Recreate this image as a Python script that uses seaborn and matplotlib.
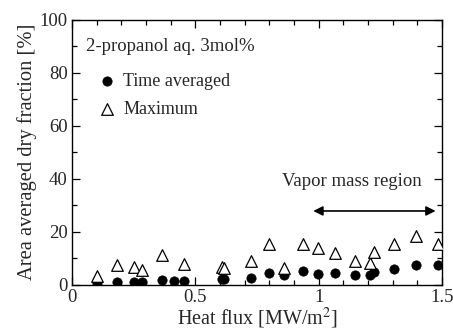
import numpy as np
import pandas as pd
import matplotlib
matplotlib.use("Agg")
import matplotlib.pyplot as plt
import seaborn as sns
from matplotlib.ticker import MultipleLocator

heat_flux = [0.100, 0.181, 0.251, 0.284, 0.365, 0.413, 0.455, 0.609, 0.615,
             0.727, 0.799, 0.859, 0.935, 0.996, 1.067, 1.147, 1.208, 1.223,
             1.304, 1.393, 1.485]
time_avg = [0.4, 0.9, 0.9, 0.9, 1.6, 1.5, 1.5, 2.0, 2.0,
            2.6, 4.2, 3.5, 5.2, 3.9, 4.4, 3.5, 3.5, 4.9,
            5.9, 7.5, 7.3]
max_hf = [0.100, 0.181, 0.251, 0.284, 0.365, 0.455, 0.609, 0.615,
          0.727, 0.799, 0.859, 0.935, 0.996, 1.067, 1.147, 1.208, 1.223,
          1.304, 1.393, 1.485]
maximum = [3.1, 7.3, 6.5, 5.4, 11.2, 7.7, 6.5, 6.2,
           8.7, 15.2, 6.2, 15.5, 13.7, 12.0, 8.7, 8.2, 12.2,
           15.5, 18.3, 15.5]
arrow_x = [0.978, 1.474]
arrow_y = 27.8
region_label_x = 1.134
region_label_y = 38.8

sns.set_theme(style="ticks")
plt.rcParams['font.family'] = ['Liberation Serif', 'DejaVu Serif']
plt.rcParams['mathtext.fontset'] = 'stix'

fig = plt.figure(figsize=(4.53, 3.30), dpi=100)
ax = fig.add_axes([72/453, 1-284.5/330, 370/453, 264.5/330])

df_t = pd.DataFrame({"x": heat_flux, "y": time_avg})
df_m = pd.DataFrame({"x": max_hf, "y": maximum})
sns.scatterplot(data=df_t, x="x", y="y", ax=ax, marker="o", s=45, color="black",
                edgecolor="black", linewidth=0.5, label="Time averaged", zorder=3)
sns.scatterplot(data=df_m, x="x", y="y", ax=ax, marker="^", s=70, facecolor="white",
                edgecolor="black", linewidth=0.9, label="Maximum", zorder=3)

ax.set_xlim(0, 1.5)
ax.set_ylim(0, 100)
ax.xaxis.set_minor_locator(MultipleLocator(0.1))
ax.yaxis.set_major_locator(MultipleLocator(20))
ax.yaxis.set_minor_locator(MultipleLocator(10))
ax.set_xticks([0, 0.5, 1, 1.5])
ax.set_xticklabels(["0", "0.5", "1", "1.5"])
ax.tick_params(which="both", direction="in", top=True, right=True, labelsize=13.5,
               color="black", pad=3)
ax.tick_params(which="major", length=6, width=0.9)
ax.tick_params(which="minor", length=3.5, width=0.9)
for s in ax.spines.values():
    s.set_linewidth(1.0)
    s.set_color("black")

ax.set_xlabel("Heat flux [MW/m$^2$]", fontsize=14.5, labelpad=0)
ax.set_ylabel("Area averaged dry fraction [%]", fontsize=14.8, labelpad=2)

ax.text(0.038, 0.898, "2-propanol aq. 3mol%", transform=ax.transAxes,
        fontsize=13.5, va="center", ha="left")
ax.legend(loc="upper left", bbox_to_anchor=(0.07, 0.80), frameon=False,
          fontsize=13, handlelength=1.0, handletextpad=0.4, labelspacing=0.6,
          borderaxespad=0, borderpad=0)

ax.annotate("", xy=(arrow_x[1], arrow_y), xytext=(arrow_x[0], arrow_y),
            arrowprops=dict(arrowstyle="<|-|>", color="black", lw=1.2,
                            mutation_scale=14, shrinkA=0, shrinkB=0))
ax.text(region_label_x, region_label_y, "Vapor mass region", fontsize=13.5,
        ha="center", va="center")

fig.savefig("out.png", dpi=100)
